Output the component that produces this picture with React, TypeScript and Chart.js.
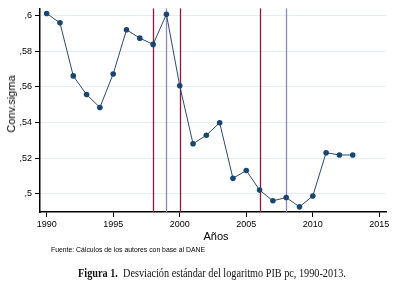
import React, { useEffect, useRef } from "react";
import { Chart, registerables } from "chart.js";

Chart.register(...registerables);

const years = [1990, 1991, 1992, 1993, 1994, 1995, 1996, 1997, 1998, 1999, 2000, 2001, 2002, 2003, 2004, 2005, 2006, 2007, 2008, 2009, 2010, 2011, 2012, 2013];
const sigma = [0.6011, 0.5959, 0.5661, 0.5556, 0.5484, 0.5672, 0.592, 0.5873, 0.5838, 0.6007, 0.5606, 0.528, 0.5328, 0.5398, 0.5086, 0.513, 0.502, 0.496, 0.4978, 0.4926, 0.4987, 0.523, 0.5217, 0.5217];
const xTicks = [1990, 1995, 2000, 2005, 2010, 2015];
const yTicks = [0.5, 0.52, 0.54, 0.56, 0.58, 0.6];
const yTickLabels = [",5", ",52", ",54", ",56", ",58", ",6"];
const redLines = [1998, 2000, 2006];
const purpleLines = [1999, 2008];

const vLinesPlugin = {
  id: "vlines",
  beforeDatasetsDraw(chart: any) {
    const { ctx, chartArea, scales } = chart;
    const draw = (vals: number[], color: string) => {
      vals.forEach((v) => {
        const x = Math.round(scales.x.getPixelForValue(v)) + 0.5;
        ctx.save();
        ctx.strokeStyle = color;
        ctx.lineWidth = 1.3;
        ctx.beginPath();
        ctx.moveTo(x, chartArea.top);
        ctx.lineTo(x, chartArea.bottom);
        ctx.stroke();
        ctx.restore();
      });
    };
    draw(purpleLines, "#8d88c4");
    draw(redLines, "#8c1a3c");
  },
};

export default function App() {
  const ref = useRef<HTMLCanvasElement>(null);
  useEffect(() => {
    if (!ref.current) return;
    const chart = new Chart(ref.current, {
      type: "line",
      data: {
        datasets: [
          {
            data: years.map((y, i) => ({ x: y, y: sigma[i] })),
            borderColor: "#2b4a6e",
            borderWidth: 1,
            pointRadius: 2.8,
            pointBackgroundColor: "#1a476f",
            pointBorderWidth: 0,
            tension: 0,
          },
        ],
      },
      options: {
        responsive: false,
        animation: false,
        devicePixelRatio: 1,
        layout: { padding: { left: 0, right: 14, top: 5, bottom: 0 } },
        plugins: { legend: { display: false }, tooltip: { enabled: false } },
        scales: {
          x: {
            type: "linear",
            min: 1989.5,
            max: 2015.5,
            afterFit: (s: any) => {
              s.height = 69;
            },
            afterBuildTicks: (axis: any) => {
              axis.ticks = xTicks.map((v) => ({ value: v }));
            },
            ticks: {
              color: "#000",
              font: { family: "Liberation Sans", size: 9 },
              padding: 2,
              maxRotation: 0,
              callback: (v: any) => String(v),
            },
            grid: { display: true, drawOnChartArea: false, drawTicks: true, tickLength: 5, tickColor: "#000", tickWidth: 1 },
            border: { display: true, color: "#000", width: 1.5 },
          },
          y: {
            type: "linear",
            min: 0.4897,
            max: 0.604,
            afterFit: (s: any) => {
              s.width = 40;
            },
            afterBuildTicks: (axis: any) => {
              axis.ticks = yTicks.map((v) => ({ value: v }));
            },
            ticks: {
              color: "#000",
              font: { family: "Liberation Sans", size: 9 },
              padding: 3,
              callback: (v: any) => {
                const i = yTicks.findIndex((t) => Math.abs(t - v) < 1e-6);
                return i >= 0 ? yTickLabels[i] : "";
              },
            },
            grid: { display: true, color: "#e6edf0", lineWidth: 1, drawTicks: true, tickLength: 5, tickColor: "#000", tickWidth: 1 },
            border: { display: true, color: "#000", width: 1.5 },
          },
        },
      },
      plugins: [vLinesPlugin],
    });
    return () => chart.destroy();
  }, []);

  return (
    <div style={{ position: "fixed", left: 0, top: 0, width: 400, height: 281, background: "#fff", overflow: "hidden" }}>
      <canvas ref={ref} width={400} height={281} style={{ position: "absolute", left: 0, top: 0 }} />
      <div
        style={{
          position: "absolute",
          left: 10.5,
          top: 104,
          transform: "translate(-50%, -50%) rotate(-90deg)",
          font: "11px 'Liberation Sans'",
          whiteSpace: "nowrap",
          color: "#000",
        }}
      >
        Conv.sigma
      </div>
      <div
        style={{
          position: "absolute",
          left: 216,
          top: 236,
          transform: "translate(-50%, -50%)",
          font: "11px 'Liberation Sans'",
          whiteSpace: "nowrap",
          color: "#000",
        }}
      >
        Años
      </div>
      <div
        style={{
          position: "absolute",
          left: 51,
          top: 249,
          transform: "translateY(-50%)",
          font: "6.85px 'Liberation Sans'",
          whiteSpace: "nowrap",
          color: "#000",
        }}
      >
        Fuente: Cálculos de los autores con base al DANE
      </div>
      <div
        style={{
          position: "absolute",
          left: 212,
          top: 273,
          transform: "translate(-50%, -50%) scaleX(0.89)",
          font: "11.5px 'Liberation Serif'",
          whiteSpace: "nowrap",
          color: "#111",
        }}
      >
        <b>Figura 1.</b>&nbsp; Desviación estándar del logaritmo PIB pc, 1990-2013.
      </div>
    </div>
  );
}
